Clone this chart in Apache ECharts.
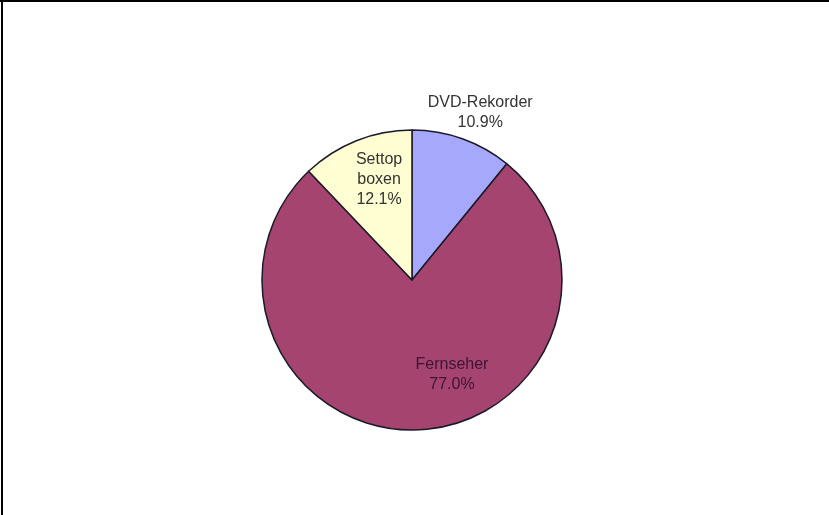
<!DOCTYPE html>
<html>
<head>
<meta charset="utf-8">
<script src="https://cdn.jsdelivr.net/npm/echarts@6/dist/echarts.min.js"></script>
<style>
html,body{margin:0;padding:0;background:#fff;}
#chart{width:829px;height:515px;}
</style>
</head>
<body>
<div id="chart"></div>
<script>
const categories = ['DVD-Rekorder', 'Fernseher', 'Settop boxen'];
const values = [10.9, 77.0, 12.1];
const colors = ['#A6A8FC', '#A5446F', '#FFFDD2'];
const labelColors = ['#333333', '#3c1534', '#333333'];
const labelOffsets = [[42, -94], [37, 17], [-4, -28]];

const chart = echarts.init(document.getElementById('chart'), null, {renderer: 'canvas'});
const data = categories.map((c, i) => ({
  name: c,
  value: values[i],
  itemStyle: {color: colors[i]},
  label: {color: labelColors[i], offset: labelOffsets[i]}
}));

chart.setOption({
  animation: false,
  backgroundColor: '#ffffff',
  graphic: [
    {type: 'rect', shape: {x: 0, y: 0, width: 829, height: 2}, style: {fill: '#000'}},
    {type: 'rect', shape: {x: 1, y: 0, width: 2, height: 515}, style: {fill: '#000'}}
  ],
  series: [{
    type: 'pie',
    center: [412, 280],
    radius: [0, 150],
    startAngle: 90,
    clockwise: true,
    avoidLabelOverlap: false,
    labelLine: {show: false},
    itemStyle: {borderColor: '#1a1a2a', borderWidth: 1.5},
    label: {
      show: true,
      position: 'inside',
      fontFamily: 'Liberation Sans, Arial, sans-serif',
      fontSize: 16,
      lineHeight: 20,
      align: 'center',
      formatter: p => p.name.replace(' ', '\n') + '\n' + p.value.toFixed(1) + '%'
    },
    emphasis: {disabled: true},
    data: data
  }]
});
</script>
</body>
</html>
